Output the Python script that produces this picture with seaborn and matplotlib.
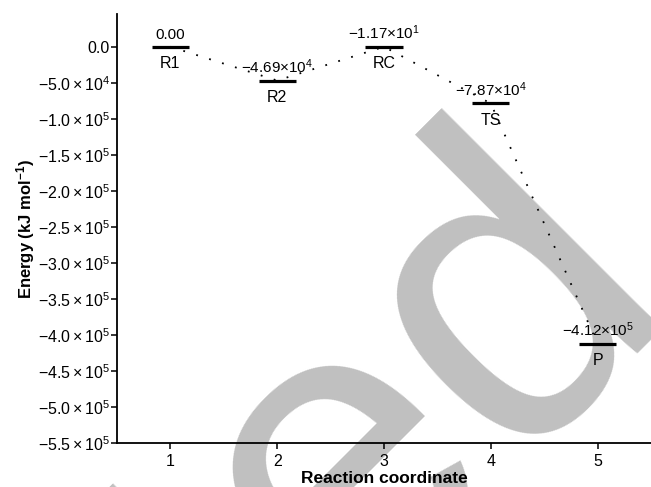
import matplotlib
matplotlib.use("Agg")
import matplotlib.pyplot as plt
import seaborn as sns
import pandas as pd
import numpy as np

# ---- data ----
coords = [1, 2, 3, 4, 5]
energies = [0.0, -4.69e4, -1.17e1, -7.87e4, -4.12e5]
state_names = ["R1", "R2", "RC", "TS", "P"]
energy_labels = ["0.00", r"$-4.69{\times}10^{4}$", r"$-1.17{\times}10^{1}$",
                 r"$-7.87{\times}10^{4}$", r"$-4.12{\times}10^{5}$"]
x_ticks = [1, 2, 3, 4, 5]
y_ticks = [0, -5e4, -1e5, -1.5e5, -2e5, -2.5e5, -3e5, -3.5e5, -4e5, -4.5e5, -5e5, -5.5e5]
y_tick_labels = ["0.0", r"$-5.0\times10^{4}$", r"$-1.0\times10^{5}$", r"$-1.5\times10^{5}$",
                 r"$-2.0\times10^{5}$", r"$-2.5\times10^{5}$", r"$-3.0\times10^{5}$",
                 r"$-3.5\times10^{5}$", r"$-4.0\times10^{5}$", r"$-4.5\times10^{5}$",
                 r"$-5.0\times10^{5}$", r"$-5.5\times10^{5}$"]

sns.set_theme(style="white")
plt.rcParams["font.family"] = ["Liberation Sans", "DejaVu Sans"]
plt.rcParams["mathtext.fontset"] = "custom"
plt.rcParams["mathtext.rm"] = "Liberation Sans"
plt.rcParams["mathtext.it"] = "Liberation Sans:italic"
plt.rcParams["mathtext.bf"] = "Liberation Sans:bold"

W, H = 651, 487
fig = plt.figure(figsize=(W / 100, H / 100), dpi=100)
ax = fig.add_axes([117 / W, 1 - 443.3 / H, 1 - 117 / W, (443.3 - 14) / H])

# watermark
ax.text(1.047, 0.378, "ted", transform=fig.transFigure, rotation=45,
        rotation_mode="anchor", ha="right", va="baseline", fontsize=310,
        color="#c0c0c0", zorder=0, clip_on=False, family="Liberation Sans")

df = pd.DataFrame({"coord": coords, "energy": energies})
sns.lineplot(data=df, x="coord", y="energy", ax=ax, color="black",
             linestyle=(0, (1, 6.5)), linewidth=1.3, zorder=2)

c = np.array(coords, dtype=float)
hw = 0.175
ax.hlines(energies, c - hw, c + hw, color="black", linewidth=2.3, zorder=3)

for xi, e, lab, name in zip(coords, energies, energy_labels, state_names):
    ax.annotate(lab, (xi, e), xytext=(0, 3.2), textcoords="offset points",
                ha="center", va="bottom", fontsize=11, color="black", zorder=4)
    ax.annotate(name, (xi, e), xytext=(0, -6.5), textcoords="offset points",
                ha="center", va="top", fontsize=11.5, color="black", zorder=4)

ax.set_xlim(0.5, 5.5)
ax.set_ylim(-5.5e5, 4.54e4)
ax.set_xticks(x_ticks)
ax.set_xticklabels([str(t) for t in x_ticks])
ax.set_yticks(y_ticks)
ax.set_yticklabels(y_tick_labels)
ax.tick_params(axis="both", direction="out", length=4, width=1.1,
               labelsize=11.5, colors="black", left=True, bottom=True)
ax.tick_params(axis="y", pad=1)
ax.tick_params(axis="x", pad=3.5)
for s in ["left", "bottom"]:
    ax.spines[s].set_color("black")
    ax.spines[s].set_linewidth(1.3)
sns.despine(ax=ax)

ax.set_xlabel("Reaction coordinate", fontsize=12.5, fontweight="bold", labelpad=2, color="black")
ax.set_ylabel(r"Energy (kJ mol$^{\mathbf{-1}}$)", fontsize=12, fontweight="bold", labelpad=0.5, color="black")

fig.savefig("out.png", dpi=100)
